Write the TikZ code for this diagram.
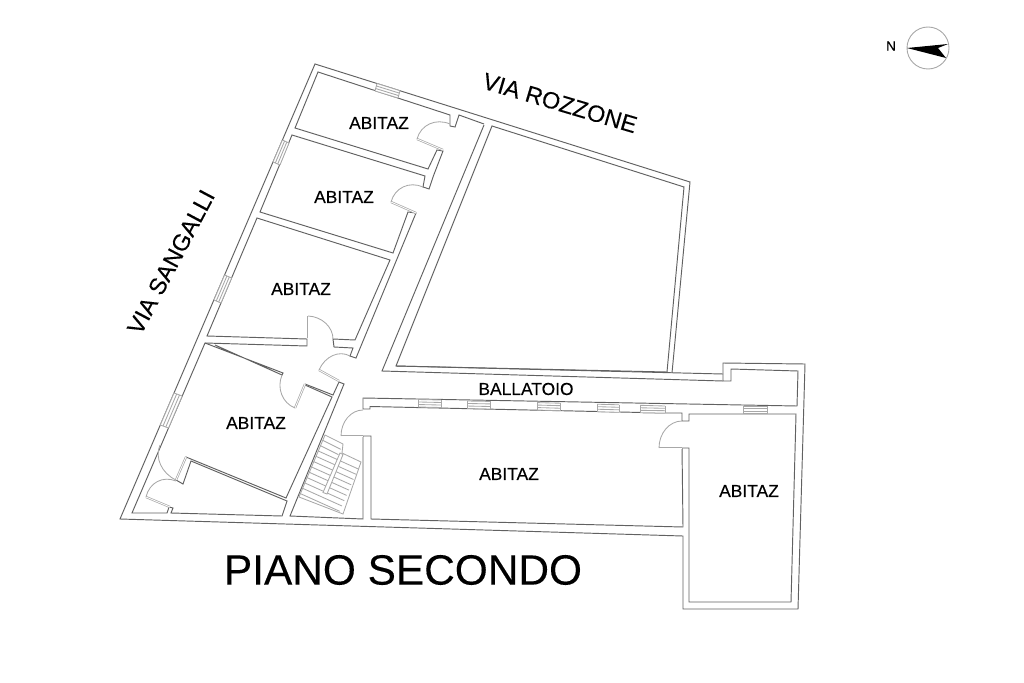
\documentclass[tikz,border=0pt]{standalone}
\usepackage{fontspec}
\setmainfont{Liberation Sans}[FakeBold=0.2]
\usetikzlibrary{calc}
\definecolor{wallgray}{gray}{0.38}
\definecolor{softgray}{gray}{0.66}
\tikzset{
    wall/.style={draw=wallgray, line width=0.95pt, line join=miter},
    thinline/.style={draw=softgray, line width=0.85pt},
    doorleaf/.style={draw=softgray, line width=0.7pt, double=white, double distance=0.8pt},
    roomlabel/.style={font=\fontsize{17.4}{20}\selectfont, text=black, inner sep=0pt},
    streetlabel/.style={font=\fontsize{23.5}{26}\selectfont, text=black, inner sep=0pt}
}
\newcommand{\doorswing}[3]{
    \draw [doorleaf] (#1) -- (#2);
    \draw [thinline] (#2) .. controls ($(#2)+.55*(#3)-.55*(#1)$) and ($(#3)+.55*(#2)-.55*(#1)$) .. (#3);
}
\newcommand{\winband}[4]{
    \fill [white] (#1) -- (#2) -- (#4) -- (#3) -- cycle;
    \draw [thinline] (#1) -- (#2);
    \draw [thinline] ($(#1)!.33!(#3)$) -- ($(#2)!.33!(#4)$);
    \draw [thinline] ($(#1)!.67!(#3)$) -- ($(#2)!.67!(#4)$);
    \draw [thinline] (#3) -- (#4);
    \draw [thinline] (#1) -- (#3);
    \draw [thinline] (#2) -- (#4);
}
\begin{document}
\begin{tikzpicture}[x=1pt,y=-1pt]
    \useasboundingbox (0,0) rectangle (1024,682);
    \draw [wall] (672,373) -- (690,182) -- (315,64) -- (120,519) -- (683,536) -- (683,609) -- (798,609) -- (805,364) -- (723,363) -- (723,381) -- (731,381) -- (731,369) -- (798,371) -- (797,406) -- (363,398) -- (363,409) -- (370,409) -- (370,406.5) -- (665,413) -- (682,413) -- (682,421) -- (689,421) -- (689,414) -- (796,414) -- (791,602) -- (689,602) -- (689,448) -- (682,448) -- (683,527) -- (371,519) -- (371,436) -- (363,436) -- (363,519) -- (290,516) -- (344,384) -- (339,382) -- (333,395) -- (305,384);
    \draw [wall] (492,126) -- (684,187) -- (667,372) -- (396,366) -- cycle;
    \draw [wall] (484,125) -- (382,371) -- (723,381);
    \draw [wall] (396,366) -- (723,374);
    \draw [wall] (484,124) -- (459,115) -- (455,127) -- (450,126) -- (450,115) -- (318,72) -- (295,128) -- (428,169) -- (437,150) -- (443,151) -- (433,177) -- (429,189) -- (423,187) -- (425,176) -- (292,135) -- (260,212) -- (393,253) -- (408,212) -- (416,213) -- (356,358) -- (350,356) -- (353,348) -- (334,347) -- (333,339) -- (355,340) -- (390,260) -- (257,218) -- (207,336) -- (307,339) -- (307,346) -- (205,343) -- (132,513) -- (167,513) -- (169,507) -- (173,508) -- (171,513) -- (282,516) -- (287,501) -- (191,461) -- (183,484) -- (176,480) -- (186,457) -- (286,498) -- (332,397) -- (305,385);
    \draw [wall] (205,343) -- (283,373) -- (282,375) -- (215,345);
    \winband{377,83.5}{400,90.7}{375,91}{398,98}
    \winband{282.4,140}{273,162}{289,143}{280,165}
    \winband{224.6,275}{213.9,300}{231.6,278}{221,303}
    \winband{174,393}{160.3,425}{182.2,396}{168.5,428}
    \winband{418,399.5}{441,400}{418,407}{441,407.5}
    \winband{467,401}{490,401.4}{467,408.5}{490,409}
    \winband{537,402.6}{560,403.2}{537,410}{560,410.7}
    \winband{597,404.2}{619,404.8}{597,411.7}{619,412.3}
    \winband{640,405.3}{665,406}{640,412.8}{665,413}
    \winband{743,406}{767,406}{743,413.7}{767,413.7}
    \doorswing{443,150}{417,139}{450,124}
    \doorswing{416,213}{391,202}{423,187}
    \doorswing{308,338}{308,316}{333,339}
    \doorswing{339,381}{319,370}{350,356}
    \doorswing{305,384}{295,408}{282,375}
    \doorswing{363,436}{341,436}{363,410}
    \doorswing{186,457}{176,480}{160,445}
    \doorswing{170,507}{146,497}{176,481}
    \doorswing{682,448}{659,448}{682,421}
    \draw [thinline] (325,435) -- (343,444) -- (342,453) -- (361,462) -- (343,514) -- (299,497) -- cycle;
    \foreach \i in {1,2} {
        \draw [thinline] ($(325,435)+\i*(-2.3,5.3)$) -- ++(18,9);
    }
    \foreach \i in {3,...,11} {
        \draw [thinline] ($(325,435)+\i*(-2.3,5.3)$) -- ++(40,18);
    }
    \draw [thinline, fill=white] (340,453) -- (343,454.5) -- (327,494) -- (323,492.5) -- cycle;
    \node [roomlabel] (roomA) at (379,123) {ABITAZ};
    \node [roomlabel] (roomB) at (344,197) {ABITAZ};
    \node [roomlabel] (roomC) at (301,289) {ABITAZ};
    \node [roomlabel] (roomD) at (256,423) {ABITAZ};
    \node [roomlabel] (roomE) at (509,474) {ABITAZ};
    \node [roomlabel] (roomF) at (749,491) {ABITAZ};
    \node [roomlabel] (gallery) at (526,389) {BALLATOIO};
    \node [streetlabel, rotate=-16.5] (streetA) at (560,103) {VIA ROZZONE};
    \node [streetlabel, rotate=62] (streetB) at (171,262) {VIA SANGALLI};
    \node [font=\fontsize{42.4}{46}\selectfont, inner sep=0pt] (title) at (403,570) {PIANO SECONDO};
    \node [font=\fontsize{13.5}{15}\selectfont, inner sep=0pt] (north) at (891,46) {N};
    \node [draw=softgray, line width=0.9pt, circle, minimum size=42pt, inner sep=0pt] (dial) at (928,48) {};
    \fill [black] (907,48) -- (948,44) -- (938,48) -- (946,58) -- cycle;
\end{tikzpicture}
\end{document}
